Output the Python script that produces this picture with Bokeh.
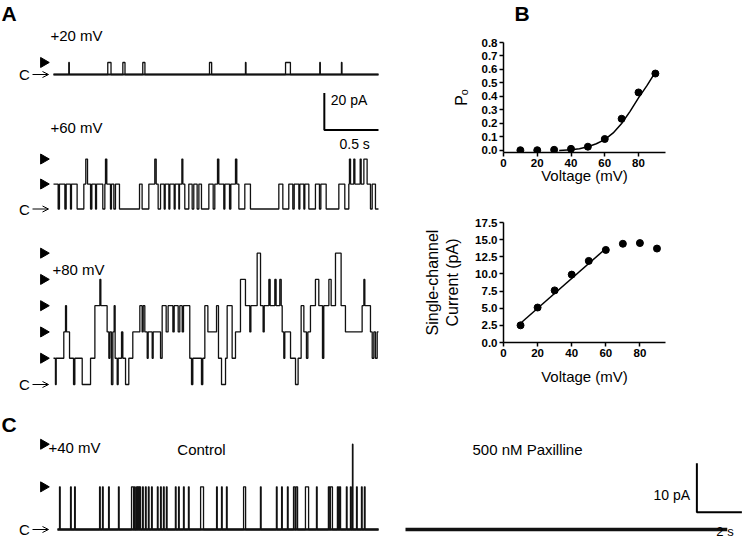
import numpy as np
from bokeh.plotting import figure
from bokeh.models import Range1d, FixedTicker, PrintfTickFormatter, Arrow, OpenHead
from bokeh.layouts import column, row
from bokeh.core.properties import value
from bokeh.embed import file_html
from bokeh.resources import INLINE

FONT = "Liberation Sans"

# ---------------- data ----------------
# Panel A, +20 mV: brief openings (start s, duration s), unitary current pA
a20_open_start = [0.141, 0.501, 0.640, 0.824, 1.440, 1.772, 2.142, 2.458, 2.658]
a20_open_dur = [0.005, 0.030, 0.020, 0.020, 0.020, 0.005, 0.045, 0.005, 0.005]
a20_unit = 6.5
a_t_end = 3.0

# Panel A, +60 mV: transitions (time s, number of open channels)
a60_t = [0.0, 0.043, 0.055, 0.105, 0.117, 0.157, 0.166, 0.218, 0.280, 0.298, 0.314, 0.342,
         0.354, 0.388, 0.397, 0.455, 0.474, 0.480, 0.492, 0.526, 0.535, 0.557, 0.572, 0.609,
         0.794, 0.818, 0.880, 0.935, 0.948, 0.966, 0.988, 1.022, 1.031, 1.065, 1.074, 1.114,
         1.123, 1.157, 1.163, 1.185, 1.194, 1.212, 1.249, 1.280, 1.295, 1.326, 1.342, 1.366,
         1.434, 1.474, 1.489, 1.514, 1.526, 1.572, 1.582, 1.625, 1.637, 1.680, 1.692, 1.711,
         1.766, 1.818, 2.080, 2.117, 2.172, 2.209, 2.222, 2.265, 2.274, 2.311, 2.320, 2.357,
         2.418, 2.455, 2.468, 2.517, 2.634, 2.689, 2.726, 2.732, 2.742, 2.772, 2.782, 2.831,
         2.840, 2.865, 2.895, 2.926, 2.942, 2.972]
a60_n = [1, 0, 1, 0, 1, 0, 1, 0, 1, 2, 1, 0,
         1, 0, 1, 0, 1, 2, 1, 0, 1, 0, 1, 0,
         1, 0, 1, 2, 1, 0, 1, 0, 1, 0, 1, 0,
         1, 0, 1, 2, 1, 0, 1, 0, 1, 0, 1, 0,
         1, 0, 1, 2, 1, 0, 1, 0, 1, 2, 1, 0,
         1, 0, 1, 0, 1, 0, 1, 0, 1, 0, 1, 0,
         1, 0, 1, 0, 1, 0, 1, 2, 1, 2, 1, 2,
         1, 2, 1, 0, 1, 0]
a60_unit = 13.5

# Panel A, +80 mV: transitions (time s, number of open channels)
a80_t = [0.0, 0.018, 0.025, 0.095, 0.111, 0.120, 0.148, 0.185, 0.197, 0.265, 0.342, 0.382,
         0.428, 0.437, 0.495, 0.511, 0.520, 0.535, 0.548, 0.560, 0.569, 0.588, 0.597, 0.628,
         0.640, 0.665, 0.695, 0.732, 0.797, 0.818, 0.828, 0.843, 0.865, 0.874, 0.911, 0.920,
         0.988, 1.003, 1.040, 1.058, 1.102, 1.114, 1.151, 1.166, 1.188, 1.200, 1.258, 1.274,
         1.286, 1.366, 1.378, 1.397, 1.425, 1.505, 1.523, 1.551, 1.588, 1.603, 1.649, 1.680,
         1.726, 1.772, 1.812, 1.822, 1.880, 1.911, 1.935, 1.945, 1.988, 2.000, 2.043, 2.055,
         2.089, 2.102, 2.111, 2.126, 2.135, 2.188, 2.234, 2.258, 2.286, 2.311, 2.335, 2.348,
         2.372, 2.418, 2.449, 2.483, 2.495, 2.542, 2.563, 2.603, 2.655, 2.695, 2.849, 2.865,
         2.874, 2.926, 2.942, 2.957, 2.972, 2.988]
a80_n = [1, 0, 1, 2, 3, 2, 1, 0, 1, 0, 1, 3,
         4, 3, 2, 1, 2, 0, 2, 3, 1, 0, 1, 2,
         1, 0, 1, 2, 3, 2, 3, 2, 1, 2, 1, 2,
         1, 3, 2, 3, 2, 3, 2, 3, 2, 3, 1, 0,
         1, 0, 1, 3, 2, 3, 1, 0, 1, 3, 1, 2,
         4, 3, 2, 3, 5, 3, 2, 3, 4, 3, 4, 3,
         4, 3, 2, 1, 2, 1, 0, 1, 3, 2, 1, 2,
         3, 4, 3, 1, 3, 4, 3, 5, 3, 2, 3, 4,
         3, 2, 1, 2, 1, 2]
a80_unit = 14.2

# Panel B: open probability and single-channel current vs voltage
volt = [10, 20, 30, 40, 50, 60, 70, 80, 90]
po = [0.002, 0.002, 0.005, 0.012, 0.028, 0.085, 0.235, 0.43, 0.57]
po_fit_v = [33, 40, 45, 50, 55, 60, 65, 70, 75, 80, 85, 90]
po_fit = [0.0, 0.005, 0.013, 0.028, 0.05, 0.08, 0.13, 0.2, 0.29, 0.39, 0.48, 0.58]
i_single = [2.5, 5.1, 7.6, 9.9, 11.9, 13.5, 14.4, 14.5, 13.7]
iv_fit_v = [10, 60]
iv_fit = [2.8, 13.7]

# Panel C, +40 mV control: openings (start s, duration s, level)
c_open_start = [0.09, 0.58, 0.76, 1.87, 2.00, 2.27, 2.71, 3.29, 3.42, 3.51, 3.58, 3.64,
                3.78, 3.91, 4.04, 4.18, 4.44, 4.58, 4.71, 4.84, 5.24, 5.38, 5.60, 5.82,
                6.36, 7.07, 7.29, 7.51, 8.27, 9.02, 9.73, 9.96, 10.22, 10.49, 10.60, 11.02,
                11.51, 12.04, 12.13, 12.44, 12.53, 12.84, 13.02, 13.11, 13.29, 13.51, 13.64]
c_open_dur = [0.03, 0.03, 0.03, 0.03, 0.03, 0.03, 0.03, 0.09, 0.03, 0.05, 0.04, 0.05,
              0.03, 0.03, 0.03, 0.03, 0.03, 0.03, 0.03, 0.03, 0.03, 0.03, 0.03, 0.03,
              0.13, 0.03, 0.03, 0.03, 0.09, 0.03, 0.03, 0.03, 0.03, 0.07, 0.07, 0.14,
              0.03, 0.06, 0.09, 0.05, 0.05, 0.03, 0.03, 0.02, 0.03, 0.03, 0.03]
c_open_level = [1] * 43 + [2] + [1] * 3
c_unit = 8.7
c_t_end = 14.27
pax_t_end = 14.3

# ---------------- layout constants (page pixels) ----------------
A_X0, A_KX, A_KY = 53.0, 108.33, 1.85
A_BASE = {"i20": 74.0, "i60": 208.5, "i80": 384.0}
C_X0, C_PAX_X0, C_KX, C_KY, C_BASE = 57.0, 405.0, 22.5, 4.9, 529.0


def xr(x0, k, left, right):
    return Range1d((left - x0) / k, (right - x0) / k)


def yr(base, k, top, bottom):
    return Range1d((base - bottom) / k, (base - top) / k)


def steps(times, levels, t_end, unit):
    x = np.array(list(times) + [t_end], dtype=float)
    y = np.array(list(levels) + [levels[-1]], dtype=float) * unit
    return x, y


def events_to_transitions(starts, durs, lvls):
    t, n = [0.0], [0]
    for s, d, l in zip(starts, durs, lvls):
        t += [s, s + d]
        n += [l, 0]
    return t, n


def txt(p, x, y, s, size="15px", align="left", baseline="middle", style="normal",
        xn="default", yn="default"):
    p.text(x=[x], y=[y], text=[s], text_font=value(FONT), text_font_size=size,
           text_align=align, text_baseline=baseline, text_font_style=style,
           text_color="black", x_range_name=xn, y_range_name=yn)


def closed_mark(p, x0, kx, xn, yn):
    # "C" label and open arrow pointing at the closed (baseline) level
    txt(p, (24 - x0) / kx, 0.0, "C", size="15px", align="center", xn=xn, yn=yn)
    p.add_layout(Arrow(end=OpenHead(size=6, line_width=1, line_color="black"),
                       x_start=(32 - x0) / kx, y_start=0.0, x_end=(48 - x0) / kx, y_end=0.0,
                       line_width=1, line_color="black", x_range_name=xn, y_range_name=yn))


def canvas(w, h, left, top):
    p = figure(width=w, height=h, x_range=Range1d(left, left + w),
               y_range=Range1d(top + h, top), min_border=0,
               toolbar_location=None, output_backend="svg",
               x_axis_location=None, y_axis_location=None)
    p.outline_line_color = None
    p.xgrid.visible = False
    p.ygrid.visible = False
    return p


TRACE = dict(line_color="#111111", line_width=1.3)

# ---------------- Panel A ----------------
pA = canvas(400, 398, 0, 0)
pA.extra_x_ranges = {"ta": xr(A_X0, A_KX, 0, 400)}
pA.extra_y_ranges = {k: yr(b, A_KY, 0, 398) for k, b in A_BASE.items()}

t20, n20 = events_to_transitions(a20_open_start, a20_open_dur, [1] * len(a20_open_start))
traces = [("i20", t20, n20, a20_unit, 1), ("i60", a60_t, a60_n, a60_unit, 2),
          ("i80", a80_t, a80_n, a80_unit, 5)]
for name, tt, nn, unit, nmax in traces:
    x, y = steps(tt, nn, a_t_end, unit)
    pA.step(x=x, y=y, mode="after", x_range_name="ta", y_range_name=name, **TRACE)
    lv = np.arange(1, nmax + 1) * unit
    pA.scatter(x=[(43 - A_X0) / A_KX] * nmax, y=lv, marker="triangle", size=10,
               angle=-np.pi / 2, color="black", x_range_name="ta", y_range_name=name)
    closed_mark(pA, A_X0, A_KX, "ta", name)

# closed-level baseline of the +20 mV trace (noisy, drawn thicker)
pA.line(x=[0, a_t_end], y=[0, 0], line_color="#111111", line_width=2,
        x_range_name="ta", y_range_name="i20")

# scale bar 20 pA / 0.5 s
pA.line(x=[2.5, 2.5, 3.0], y=[-10, -30, -30], line_color="black", line_width=2,
        x_range_name="ta", y_range_name="i20")
txt(pA, 2.56, -14.0, "20 pA", size="14px", xn="ta", yn="i20")
txt(pA, 2.78, -37.5, "0.5 s", size="14px", align="center", xn="ta", yn="i20")

txt(pA, 1, 1, "A", size="21px", baseline="top", style="bold")
txt(pA, 50, 35, "+20 mV")
txt(pA, 50, 127, "+60 mV")
txt(pA, 52, 269, "+80 mV")


# ---------------- Panel B ----------------
def style_axes(p, xlab, ylab, ystand, xstand):
    for ax in (p.xaxis[0], p.yaxis[0]):
        ax.axis_line_width = 1.5
        ax.axis_line_color = "black"
        ax.major_tick_line_width = 1.5
        ax.major_tick_line_color = "black"
        ax.major_tick_out = 4
        ax.major_tick_in = 0
        ax.minor_tick_out = 0
        ax.minor_tick_in = 0
        ax.major_label_text_font = FONT
        ax.major_label_text_font_style = "bold"
        ax.major_label_text_font_size = "11.5px"
        ax.major_label_text_color = "black"
        ax.major_label_standoff = 2
        ax.axis_label_text_font = FONT
        ax.axis_label_text_font_style = "normal"
        ax.axis_label_text_font_size = "15px"
        ax.axis_label_text_color = "black"
    p.xaxis.axis_label = xlab
    p.yaxis.axis_label = ylab
    p.yaxis.axis_label_text_font_size = "16px"
    p.yaxis.axis_label_standoff = ystand
    p.xaxis.axis_label_standoff = xstand
    p.xaxis.ticker = FixedTicker(ticks=[0, 20, 40, 60, 80])
    p.xaxis.formatter = PrintfTickFormatter(format="%d")
    p.yaxis.formatter = PrintfTickFormatter(format="%.1f")
    p.xgrid.visible = False
    p.ygrid.visible = False
    p.outline_line_color = None


pBl = canvas(350, 25, 400, 0)
txt(pBl, 424, 1, "B", size="21px", baseline="top", style="bold")

pB1 = figure(width=350, height=170, x_range=Range1d(0, 96), y_range=Range1d(-0.015, 0.8),
             min_border_left=99, min_border_right=85, min_border_top=17, min_border_bottom=43,
             toolbar_location=None, output_backend="svg")
style_axes(pB1, "Voltage (mV)", "Pₒ", 9, -3)
pB1.yaxis.ticker = FixedTicker(ticks=[0, 0.1, 0.2, 0.3, 0.4, 0.5, 0.6, 0.7, 0.8])
pB1.line(po_fit_v, po_fit, line_color="black", line_width=1.5)
pB1.scatter(volt, po, size=7, color="black")

pB2 = figure(width=350, height=203, x_range=Range1d(0, 95), y_range=Range1d(0, 17.5),
             min_border_left=103, min_border_right=67, min_border_top=27, min_border_bottom=56,
             toolbar_location=None, output_backend="svg")
style_axes(pB2, "Voltage (mV)", "Single-channel\nCurrent (pA)", 11, 8)
pB2.yaxis.ticker = FixedTicker(ticks=[0, 2.5, 5, 7.5, 10, 12.5, 15, 17.5])
pB2.line(iv_fit_v, iv_fit, line_color="black", line_width=1.5)
pB2.scatter(volt, i_single, size=7, color="black")

# ---------------- Panel C ----------------
pC = canvas(750, 141, 0, 398)
pC.extra_x_ranges = {"tc": xr(C_X0, C_KX, 0, 750), "tp": xr(C_PAX_X0, C_KX, 0, 750)}
pC.extra_y_ranges = {"ic": yr(C_BASE, C_KY, 398, 539)}

tc, nc = events_to_transitions(c_open_start, c_open_dur, c_open_level)
x, y = steps(tc, nc, c_t_end, c_unit)
pC.step(x=x, y=y, mode="after", x_range_name="tc", y_range_name="ic", **TRACE)
# closed-level baselines (noisy, drawn thick)
pC.line(x=[0, c_t_end], y=[0, 0], line_color="#111111", line_width=2.6,
        x_range_name="tc", y_range_name="ic")
x, y = steps([0.0], [0], pax_t_end, c_unit)
pC.step(x=x, y=y, mode="after", x_range_name="tp", y_range_name="ic",
        line_color="#111111", line_width=3.4)
pC.scatter(x=[(43 - C_X0) / C_KX] * 2, y=[c_unit, 2 * c_unit], marker="triangle", size=10,
           angle=-np.pi / 2, color="black", x_range_name="tc", y_range_name="ic")
closed_mark(pC, C_X0, C_KX, "tc", "ic")

pC.line(x=[12.95, 12.95, 14.95], y=[13.5, 3.5, 3.5], line_color="black", line_width=2,
        x_range_name="tp", y_range_name="ic")
txt(pC, 12.65, 7.1, "10 pA", size="14px", align="right", xn="tp", yn="ic")
txt(pC, 14.2, -0.41, "2 s", size="13px", align="center", xn="tp", yn="ic")

txt(pC, 1, 412, "C", size="21px", baseline="top", style="bold")
txt(pC, 48, 447, "+40 mV")
txt(pC, 201, 449, "Control", align="center")
txt(pC, 527, 449, "500 nM Paxilline", align="center")

layout = column(row(pA, column(pBl, pB1, pB2)), pC)
open("out.html", "w").write(file_html(layout, INLINE))
